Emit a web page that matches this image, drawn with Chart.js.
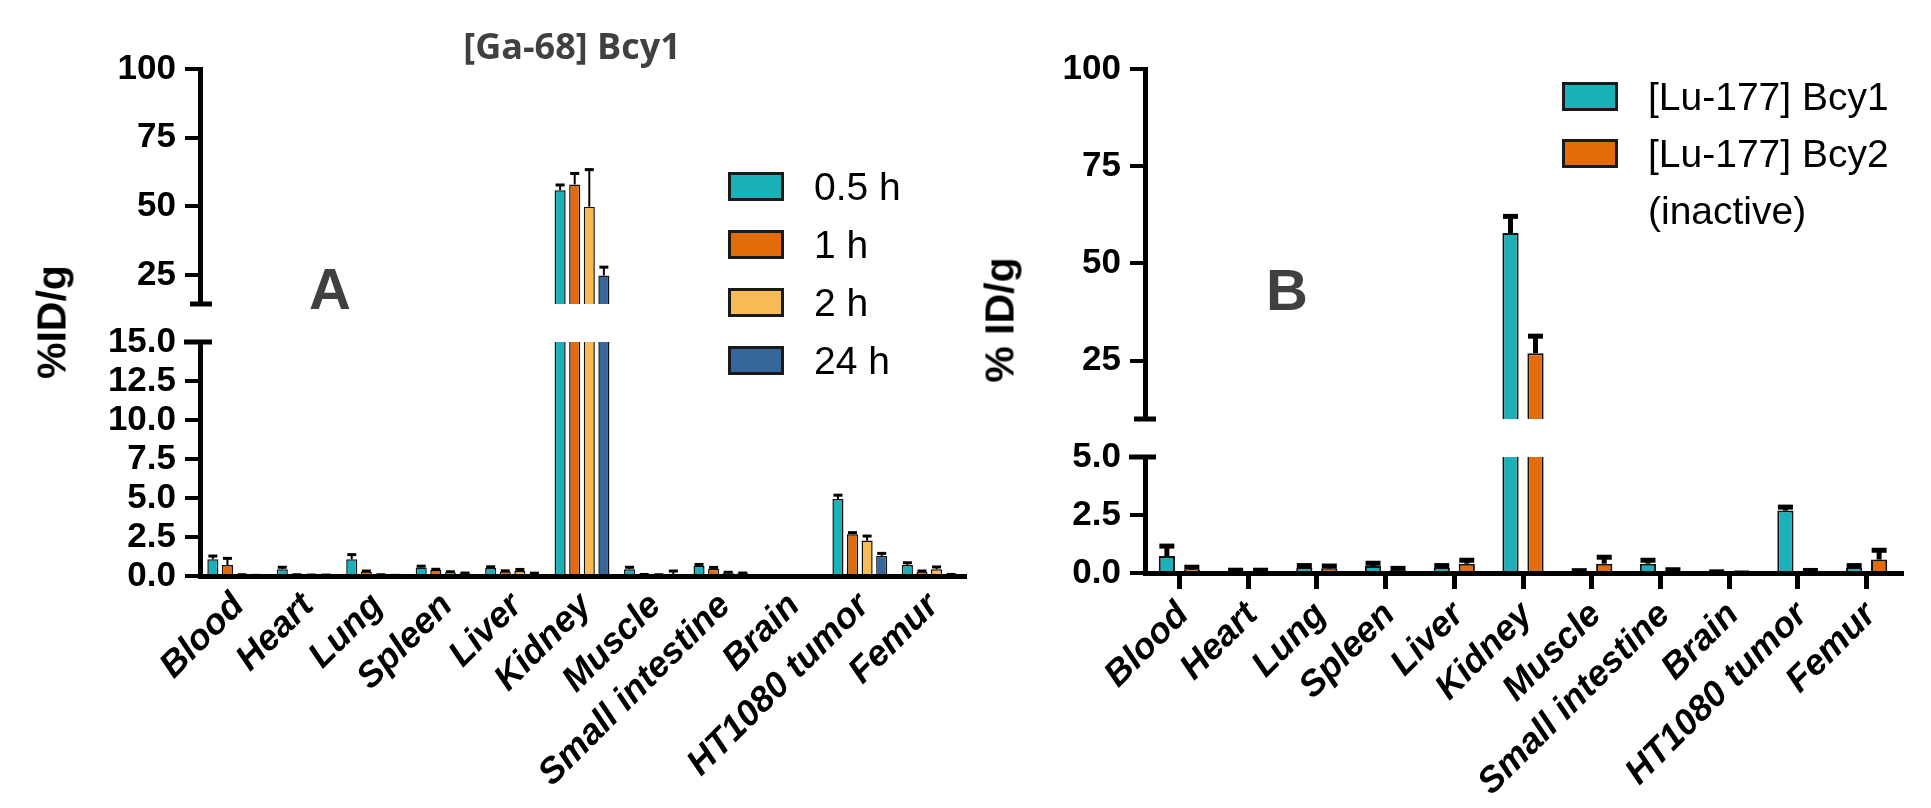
<!DOCTYPE html>
<html>
<head>
<meta charset="utf-8">
<script src="https://cdn.jsdelivr.net/npm/chart.js@4.4.0/dist/chart.umd.min.js"></script>
<style>
  body { margin: 0; background: #fff; }
  #page { position: relative; width: 1931px; height: 808px; overflow: hidden; background: #fff;
          font-family: "Liberation Sans", Arial, sans-serif; color: #000; }
  .seg { position: absolute; }
  .txt { position: absolute; white-space: nowrap; line-height: 1; transform: translate(-50%, -50%); }
  .leg { position: absolute; white-space: nowrap; font-size: 39px; }
  .sw { position: absolute; width: 56px; height: 29px; box-sizing: border-box; border: 3px solid #1a1a1a; }
</style>
</head>
<body>
<div id="page"></div>
<script>
// organs on the x axis (same for both panels)
const organs = ['Blood', 'Heart', 'Lung', 'Spleen', 'Liver', 'Kidney', 'Muscle',
                'Small intestine', 'Brain', 'HT1080 tumor', 'Femur'];

// panel A: [Ga-68] Bcy1, time points
const seriesA = ['0.5 h', '1 h', '2 h', '24 h'];
const colorsA = ['#1bb1b8', '#e36c0a', '#f6bb55', '#35679a'];
const h05 = [1.07, 0.43, 1.07, 0.55, 0.51, 55.9, 0.43, 0.64, 0.02, 4.93, 0.70];
const h05Err = [0.21, 0.13, 0.30, 0.08, 0.08, 1.9, 0.13, 0.10, 0.01, 0.25, 0.15];
const h1 = [0.70, 0.06, 0.28, 0.38, 0.28, 58.0, 0.08, 0.47, 0.02, 2.67, 0.28];
const h1Err = [0.43, 0.02, 0.04, 0.05, 0.05, 4.0, 0.02, 0.08, 0.01, 0.11, 0.04];
const h2 = [0.06, 0.05, 0.06, 0.23, 0.32, 49.9, 0.06, 0.21, 0.02, 2.27, 0.43];
const h2Err = [0.02, 0.01, 0.02, 0.04, 0.10, 13.5, 0.02, 0.03, 0.01, 0.29, 0.15];
const h24 = [0.03, 0.05, 0.03, 0.17, 0.15, 24.9, 0.12, 0.17, 0.02, 1.28, 0.08];
const h24Err = [0.01, 0.01, 0.01, 0.02, 0.03, 3.0, 0.20, 0.02, 0.01, 0.17, 0.02];

// panel B: Lu-177 compounds
const seriesB = [['[Lu-177] Bcy1'], ['[Lu-177] Bcy2', '(inactive)']];
const colorsB = ['#1bb1b8', '#e36c0a'];
const bcy1 = [0.73, 0.06, 0.22, 0.30, 0.22, 57.8, 0.05, 0.40, 0.03, 2.69, 0.22];
const bcy1Err = [0.43, 0.06, 0.10, 0.12, 0.10, 4.3, 0.05, 0.15, 0.02, 0.15, 0.10];
const bcy2 = [0.15, 0.06, 0.20, 0.12, 0.40, 26.9, 0.40, 0.08, 0.00, 0.06, 0.58];
const bcy2Err = [0.10, 0.06, 0.10, 0.08, 0.15, 4.4, 0.28, 0.06, 0.00, 0.05, 0.40];

// broken axis ranges and ticks
const upperTicksA = [25, 50, 75, 100];
const lowerTicksA = [0, 2.5, 5, 7.5, 10, 12.5, 15];
const upperTicksB = [25, 50, 75, 100];
const lowerTicksB = [0, 2.5, 5];

const page = document.getElementById('page');

const errorBars = {
  id: 'errorBars',
  afterDatasetsDraw(chart, args, opts) {
    const {ctx, chartArea: a} = chart;
    const ys = chart.scales.y;
    ctx.save();
    ctx.beginPath();
    ctx.rect(a.left, a.top, a.right - a.left, a.bottom - a.top);
    ctx.clip();
    ctx.strokeStyle = '#000';
    chart.data.datasets.forEach((ds, i) => {
      chart.getDatasetMeta(i).data.forEach((bar, j) => {
        const v = ds.data[j], e = ds.errors[j];
        const y0 = ys.getPixelForValue(v), y1 = ys.getPixelForValue(v + e);
        ctx.lineWidth = opts.stem;
        ctx.beginPath(); ctx.moveTo(bar.x, y0); ctx.lineTo(bar.x, y1); ctx.stroke();
        ctx.lineWidth = opts.cap;
        ctx.beginPath(); ctx.moveTo(bar.x - opts.capWidth / 2, y1); ctx.lineTo(bar.x + opts.capWidth / 2, y1); ctx.stroke();
      });
    });
    ctx.restore();
  }
};

// short horizontal marks where the y axis is broken
const breakMarks = {
  id: 'breakMarks',
  afterDraw(chart, args, opts) {
    const {ctx, chartArea: a} = chart;
    const y = opts.edge === 'top' ? a.top : a.bottom;
    ctx.save();
    ctx.strokeStyle = '#000';
    ctx.lineWidth = 5;
    ctx.beginPath(); ctx.moveTo(a.left - opts.left, y); ctx.lineTo(a.left + opts.right, y); ctx.stroke();
    ctx.restore();
  }
};

function makeSegment(frame, plot, o) {
  const div = document.createElement('div');
  div.className = 'seg';
  div.style.left = frame.left + 'px';
  div.style.top = frame.top + 'px';
  div.style.width = frame.width + 'px';
  div.style.height = frame.height + 'px';
  const cv = document.createElement('canvas');
  div.appendChild(cv);
  page.appendChild(div);

  const yw = plot.left - frame.left;
  const xh = frame.top + frame.height - plot.bottom;

  const xScale = {
    display: o.showX,
    offset: true,
    grid: {display: true, drawOnChartArea: false, drawTicks: o.xTicks, tickLength: 16, lineWidth: 5,
           color: '#000', offset: false, z: 1},
    border: {display: true, width: 5, color: '#000', z: 1},
    ticks: {autoSkip: false, minRotation: 45, maxRotation: 45, padding: o.xPad, labelOffset: 4, color: '#000',
            font: {family: 'Liberation Sans', size: 36, weight: 'bold', style: 'italic'}}
  };
  if (o.showX) xScale.afterFit = s => { s.height = xh; };

  new Chart(cv, {
    type: 'bar',
    data: {
      labels: organs,
      datasets: o.series.map((s, i) => ({
        label: s.label,
        data: s.data,
        errors: s.errors,
        backgroundColor: s.color,
        borderColor: '#111',
        borderWidth: o.barBorder,
        borderSkipped: 'start',
        clip: 0,
        categoryPercentage: o.catPct,
        barPercentage: o.barPct
      }))
    },
    options: {
      responsive: true,
      maintainAspectRatio: false,
      animation: false,
      devicePixelRatio: 1,
      layout: {padding: {left: 0, top: plot.top - frame.top,
                         right: frame.left + frame.width - plot.right,
                         bottom: o.showX ? 0 : xh}},
      plugins: {
        legend: {display: false},
        tooltip: {enabled: false},
        errorBars: o.err,
        breakMarks: o.brk
      },
      scales: {
        x: xScale,
        y: {
          min: o.min, max: o.max,
          afterBuildTicks: s => { s.ticks = o.ticks.map(v => ({value: v})); },
          afterFit: s => { s.width = yw; },
          grid: {drawOnChartArea: false, tickLength: 15, lineWidth: 4, color: '#000', z: 1},
          border: {display: true, width: 5, color: '#000', z: 1},
          ticks: {padding: 9, autoSkip: false, color: '#000', callback: o.fmt,
                  font: {family: 'Liberation Sans', size: 35, weight: 'bold'}}
        }
      }
    },
    plugins: [errorBars, breakMarks]
  });
}

function text(str, x, y, css) {
  const d = document.createElement('div');
  d.className = 'txt';
  d.textContent = str;
  Object.assign(d.style, {left: x + 'px', top: y + 'px'}, css);
  page.appendChild(d);
  return d;
}

function legend(labels, colors, x, y0, step) {
  let y = y0;
  labels.forEach((lines, i) => {
    const sw = document.createElement('div');
    sw.className = 'sw';
    sw.style.left = x + 'px';
    sw.style.top = (y - 14.5) + 'px';
    sw.style.background = colors[i];
    page.appendChild(sw);
    const t = document.createElement('div');
    t.className = 'leg';
    t.style.left = (x + 86) + 'px';
    t.style.top = (y - step / 2) + 'px';
    t.style.lineHeight = step + 'px';
    t.innerHTML = lines.join('<br>');
    page.appendChild(t);
    y += step * lines.length;
  });
}

const up = v => String(v);
const dec = v => v.toFixed(1);

const dataA = [h05, h1, h2, h24].map((d, i) => ({
  label: seriesA[i], data: d, errors: [h05Err, h1Err, h2Err, h24Err][i], color: colorsA[i]
}));
const dataB = [bcy1, bcy2].map((d, i) => ({
  label: seriesB[i].join(' '), data: d, errors: [bcy1Err, bcy2Err][i], color: colorsB[i]
}));

const styleA = {series: dataA, catPct: 0.84, barPct: 0.76, barBorder: 1.5,
                err: {stem: 2, cap: 3, capWidth: 9}, xTicks: false, xPad: 9};
const styleB = {series: dataB, catPct: 0.727, barPct: 0.65, barBorder: 2,
                err: {stem: 5, cap: 5, capWidth: 15}, xTicks: true, xPad: 5};

// panel A, upper and lower parts of the broken axis
// (frames overlap so the tick label padding never pushes the plot area)
makeSegment({left: 0, top: 20, width: 990, height: 330}, {left: 200, top: 69, right: 964, bottom: 304},
  Object.assign({}, styleA, {showX: false, min: 14.5, max: 100, ticks: upperTicksA, fmt: up,
    brk: {edge: 'bottom', left: 10, right: 12}}));
makeSegment({left: 0, top: 296, width: 990, height: 512}, {left: 200, top: 342, right: 964, bottom: 576},
  Object.assign({}, styleA, {showX: true, min: 0, max: 15, ticks: lowerTicksA, fmt: dec,
    brk: {edge: 'top', left: 16, right: 12}}));

// panel B
makeSegment({left: 960, top: 20, width: 971, height: 445}, {left: 1145, top: 69, right: 1901, bottom: 419},
  Object.assign({}, styleB, {showX: false, min: 10, max: 100, ticks: upperTicksB, fmt: up,
    brk: {edge: 'bottom', left: 11, right: 11}}));
makeSegment({left: 960, top: 410, width: 971, height: 398}, {left: 1145, top: 457, right: 1901, bottom: 573},
  Object.assign({}, styleB, {showX: true, min: 0, max: 5, ticks: lowerTicksB, fmt: dec,
    brk: {edge: 'top', left: 16, right: 11}}));

// titles and labels
text('[Ga-68] Bcy1', 572, 46, {fontFamily: '"Open Sans", sans-serif', fontWeight: 'bold', fontSize: '36px', color: '#404040'});
text('A', 330, 289, {fontWeight: 'bold', fontSize: '58px', color: '#404040'});
text('B', 1287, 290, {fontWeight: 'bold', fontSize: '58px', color: '#404040'});
text('%ID/g', 52, 322, {fontWeight: 'bold', fontSize: '41px', transform: 'translate(-50%,-50%) rotate(-90deg)'});
text('% ID/g', 1000, 320, {fontWeight: 'bold', fontSize: '41px', transform: 'translate(-50%,-50%) rotate(-90deg)'});

legend(seriesA.map(s => [s]), colorsA, 728, 186.5, 58);
legend(seriesB, colorsB, 1562, 96, 57);
</script>
</body>
</html>
